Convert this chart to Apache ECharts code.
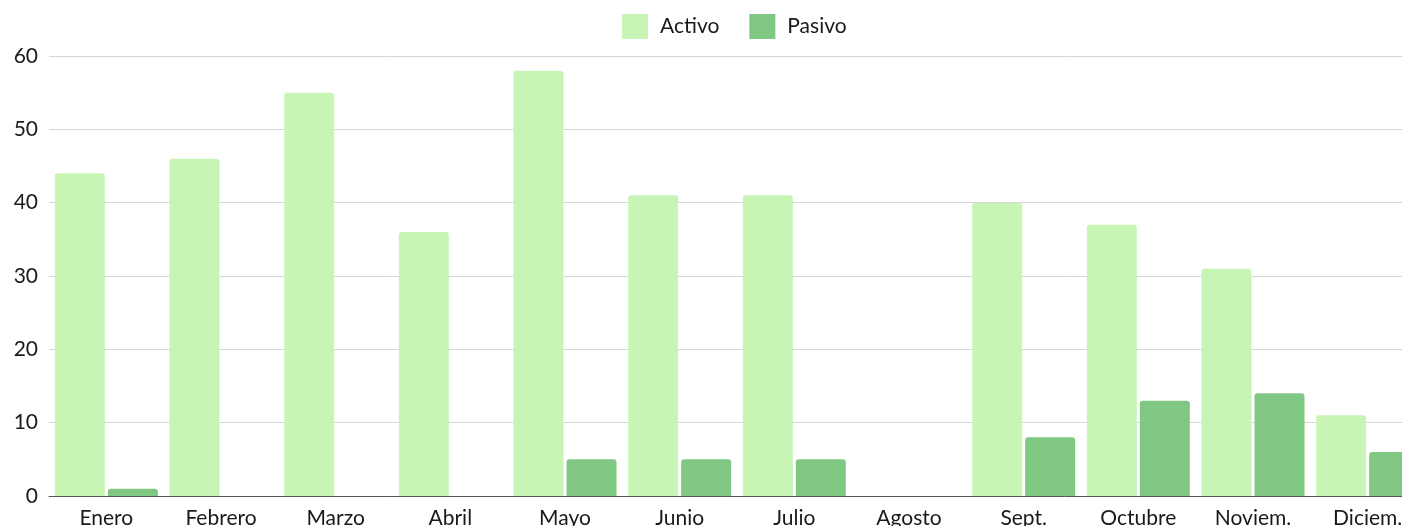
<!DOCTYPE html>
<html>
<head>
<meta charset="utf-8">
<script src="https://cdn.jsdelivr.net/npm/echarts@6/dist/echarts.min.js"></script>
<style>
  html, body { margin: 0; padding: 0; background: #fff; }
  #chart { width: 1402px; height: 526px; }
</style>
</head>
<body>
<div id="chart"></div>
<script>
// meses y valores
const months = ['Enero', 'Febrero', 'Marzo', 'Abril', 'Mayo', 'Junio', 'Julio', 'Agosto', 'Sept.', 'Octubre', 'Noviem.', 'Diciem.'];
const activo = [44, 46, 55, 36, 58, 41, 41, 0, 40, 37, 31, 11];
const pasivo = [1, 0, 0, 0, 5, 5, 5, 0, 8, 13, 14, 6];

const myChart = echarts.init(document.getElementById('chart'));
const option = {
    animation: false,
    textStyle: { fontFamily: 'Lato' },
    legend: {
        top: 9,
        left: 617,
        itemWidth: 26,
        itemHeight: 25,
        itemGap: 30,
        icon: 'rect',
        textStyle: { fontSize: 21, color: '#1a1a1a', fontFamily: 'Lato', padding: [0, 0, 0, 7] },
        data: ['Activo', 'Pasivo']
    },
    grid: {
        left: 49,
        top: 56,
        width: 1376,
        height: 440,
        containLabel: false,
        outerBoundsMode: 'none'
    },
    xAxis: {
        type: 'category',
        data: months,
        axisLine: { lineStyle: { color: '#555', width: 1 } },
        axisTick: { show: false },
        axisLabel: { fontSize: 21, color: '#1a1a1a', margin: 12, fontFamily: 'Lato', interval: 0 }
    },
    yAxis: {
        type: 'value',
        min: 0,
        max: 60,
        interval: 10,
        axisLine: { show: false },
        axisTick: { show: false },
        splitLine: { lineStyle: { color: '#d6d6d6', width: 1 } },
        axisLabel: { fontSize: 21, color: '#1a1a1a', margin: 11, fontFamily: 'Lato' }
    },
    series: [{
        name: 'Activo',
        type: 'bar',
        data: activo,
        barWidth: 50,
        barGap: '6%',
        itemStyle: { color: '#c8f5b5', borderRadius: [3, 3, 0, 0] }
    }, {
        name: 'Pasivo',
        type: 'bar',
        data: pasivo,
        barWidth: 50,
        barGap: '6%',
        itemStyle: { color: '#80c784', borderRadius: [3, 3, 0, 0] }
    }]
};
myChart.setOption(option);
</script>
</body>
</html>
